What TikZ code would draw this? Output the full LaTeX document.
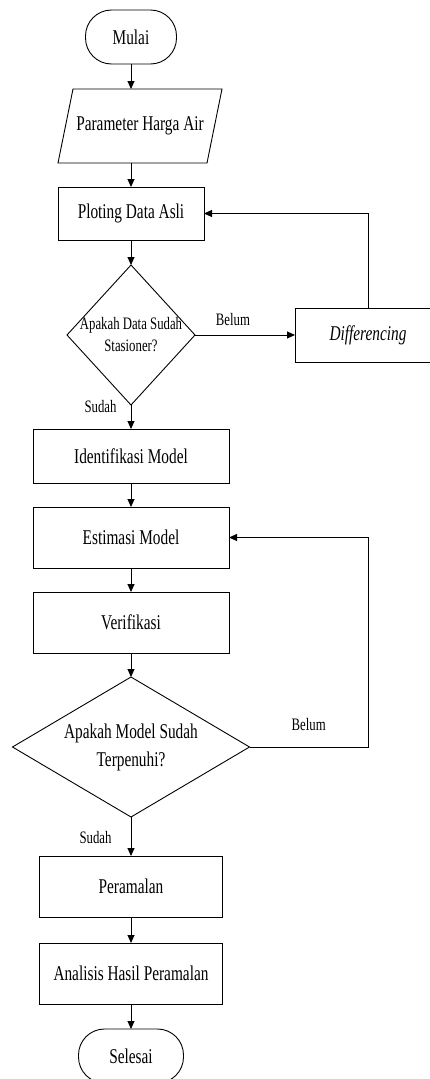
\documentclass[tikz,border=0pt]{standalone}
\usepackage{fontspec}
\setmainfont{Liberation Serif}[FakeStretch=0.73]
\usepackage{tikz}
\usetikzlibrary{positioning}
\usetikzlibrary{arrows.meta}
\usetikzlibrary{shapes.geometric}

\tikzset{
  base/.style={draw, line width=0.9pt, outer sep=0pt, inner sep=2pt, align=center,
    font=\fontsize{21}{24}\selectfont},
  terminal/.style={base, rectangle, rounded corners=26pt, minimum height=54pt},
  io/.style={base, draw=none, rectangle, minimum width=149pt, minimum height=74pt},
  process/.style={base, rectangle, minimum height=61pt},
  decision/.style={base, diamond, inner sep=0pt, minimum height=140pt},
  dectext/.style={align=center, inner sep=0pt},
  lbl/.style={inner sep=1pt, font=\fontsize{17.5}{20}\selectfont},
  arr/.style={line width=0.9pt, -{Triangle[length=8pt,width=7pt]}}
}

\begin{document}
\begin{tikzpicture}[node distance=24pt]
  \useasboundingbox (0,0) rectangle (430pt,-1079pt);

  % Define nodes
  \node[terminal, minimum width=91pt] (start) at (131pt,-37pt) {Mulai};
  \node[io, below=25pt of start, xshift=9pt] (param) {Parameter Harga Air};
  \node[process, minimum width=146pt, minimum height=53pt, below=24pt of param, xshift=-9pt] (plot) {Ploting Data Asli};
  \node[decision, minimum width=128pt, below=25pt of plot] (stat) {};
  \node[dectext, font=\fontsize{17.5}{22}\selectfont] (stattext) at (stat) {Apakah Data Sudah\\Stasioner?};
  \node[process, minimum width=146pt, minimum height=54pt, right=100pt of stat] (diff) {\itshape Differencing};
  \node[process, minimum width=196pt, minimum height=54pt, below=of stat] (ident) {Identifikasi Model};
  \node[process, minimum width=196pt, below=of ident] (estim) {Estimasi Model};
  \node[process, minimum width=196pt, below=of estim] (verif) {Verifikasi};
  \node[decision, minimum width=237pt, below=of verif] (valid) {};
  \node[dectext, font=\fontsize{21}{28}\selectfont] (validtext) at (valid) {Apakah Model Sudah\\Terpenuhi?};
  \node[process, minimum width=183pt, below=39pt of valid] (peram) {Peramalan};
  \node[process, minimum width=183pt, below=26pt of peram] (anal) {Analisis Hasil Peramalan};
  \node[terminal, minimum width=105pt, below=25pt of anal] (stop) {Selesai};

  % Parallelogram outline
  \draw[line width=0.9pt] ([xshift=7.5pt]param.north west) -- ([xshift=7.5pt]param.north east)
    -- ([xshift=-7.5pt]param.south east) -- ([xshift=-7.5pt]param.south west) -- cycle;

  % Connect the nodes
  \draw[arr] (start) -- (start |- param.north);
  \draw[arr] (plot |- param.south) -- (plot);
  \draw[arr] (plot) -- (stat);
  \draw[arr] (stat) -- node[lbl, above=8pt, pos=0.38] {Belum} (diff);
  \draw[arr] (diff) |- (plot);
  \draw[arr] (stat) -- node[lbl, left=13pt, pos=0.05] {Sudah} (ident);
  \draw[arr] (ident) -- (estim);
  \draw[arr] (estim) -- (verif);
  \draw[arr] (verif) -- (valid);
  \draw[arr] (valid) -- node[lbl, left=18pt, pos=0.53] {Sudah} (peram);
  \draw[arr] (valid.east) -- node[lbl, above=15pt] {Belum} (valid.east -| diff) |- (estim);
  \draw[arr] (peram) -- (anal);
  \draw[arr] (anal) -- (stop);
\end{tikzpicture}
\end{document}
